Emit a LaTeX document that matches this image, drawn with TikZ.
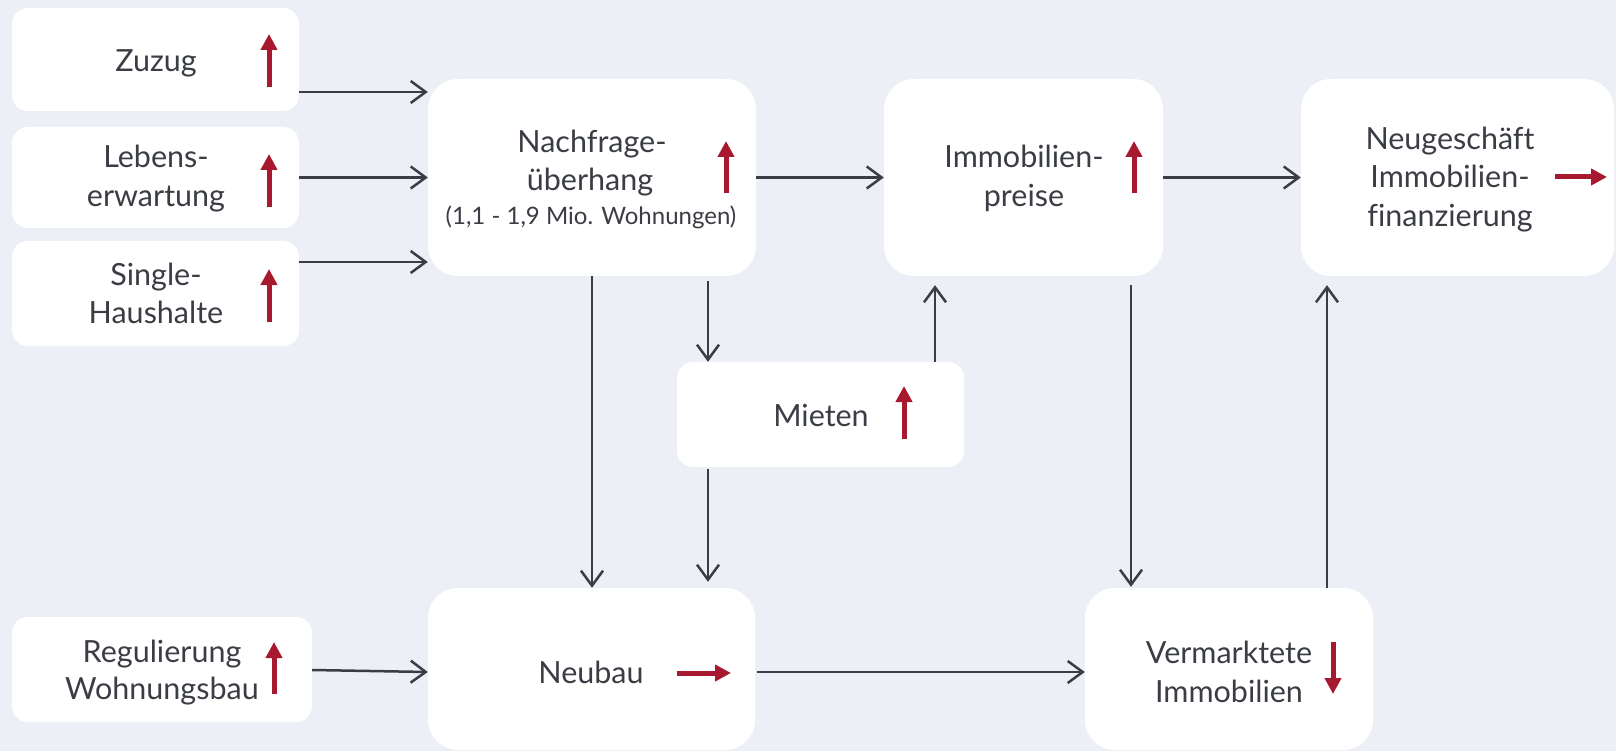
\documentclass[tikz,border=0pt]{standalone}
\usepackage{fontspec}
\setmainfont{Lato}[Ligatures=NoCommon]
\usetikzlibrary{arrows.meta}
\definecolor{bg}{RGB}{236,239,246}
\definecolor{ink}{RGB}{58,61,68}
\definecolor{signal}{RGB}{166,25,46}
\begin{document}
\begin{tikzpicture}[x=1pt,y=-1pt,
  box/.style={fill=white,draw=none,inner sep=0pt},
  small/.style={box,rounded corners=16pt},
  large/.style={box,rounded corners=30pt},
  lbl/.style={anchor=base,inner sep=0pt,text=ink,font=\fontsize{30.5}{38}\selectfont},
  sublbl/.style={anchor=base,inner sep=0pt,text=ink,font=\fontsize{24}{30}\selectfont},
  conn/.style={draw=ink,line width=2.5pt,-{Straight Barb[length=15pt,width=22pt]}},
  trend/.style={draw=signal,line width=5pt,-{Triangle[length=16pt,width=16pt]}}]
\useasboundingbox (0,0) rectangle (1616,751);
\fill[bg] (0,0) rectangle (1616,751);

% boxes
\node[small,minimum width=287pt,minimum height=103pt] (zuzug)  at (155.5,59.5) {};
\node[small,minimum width=287pt,minimum height=101pt] (lebens) at (155.5,177.5) {};
\node[small,minimum width=287pt,minimum height=105pt] (single) at (155.5,293.5) {};
\node[small,minimum width=300pt,minimum height=105pt] (regul)  at (162,669.5) {};
\node[large,minimum width=328pt,minimum height=197pt] (nach)   at (592,177.5) {};
\node[large,minimum width=279pt,minimum height=197pt] (immo)   at (1023.5,177.5) {};
\node[large,minimum width=313pt,minimum height=197pt] (neug)   at (1457.5,177.5) {};
\node[small,minimum width=287pt,minimum height=105pt] (mieten) at (820.5,414.5) {};
\node[large,minimum width=327pt,minimum height=162pt] (neubau) at (591.5,669) {};
\node[large,minimum width=288pt,minimum height=162pt] (verm)   at (1229,669) {};

% labels
\node[lbl] (tzuzug) at (156,72) {Zuzug};
\node[lbl] (tleb1) at (156,168) {Lebens-};
\node[lbl] (tleb2) at (156,207) {erwartung};
\node[lbl] (tsin1) at (156,285) {Single-};
\node[lbl] (tsin2) at (156,323) {Haushalte};
\node[lbl] (treg1) at (162,662) {Regulierung};
\node[lbl] (treg2) at (162,699) {Wohnungsbau};
\node[lbl] (tnach1) at (592,153) {Nachfrage-};
\node[lbl] (tnach2) at (590,191) {überhang};
\node[sublbl] (tnach3) at (591,225) {(1,1 - 1,9 Mio. Wohnungen)};
\node[lbl] (timmo1) at (1024,168) {Immobilien-};
\node[lbl] (timmo2) at (1024,207) {preise};
\node[lbl] (tneug1) at (1450,150) {Neugeschäft};
\node[lbl] (tneug2) at (1450,188) {Immobilien-};
\node[lbl] (tneug3) at (1450,227) {finanzierung};
\node[lbl] (tmiet) at (821,426) {Mieten};
\node[lbl] (tneubau) at (591,683) {Neubau};
\node[lbl] (tverm1) at (1229,663) {Vermarktete};
\node[lbl] (tverm2) at (1229,702) {Immobilien};

% connectors
\draw[conn] (zuzug.east |- 0,92) -- (nach.west |- 0,92);
\draw[conn] (lebens.east) -- (nach.west);
\draw[conn] (single.east |- 0,262) -- (nach.west |- 0,262);
\draw[conn] (regul.east |- 0,670) -- (neubau.west |- 0,672);
\draw[conn] (nach.east) -- (immo.west);
\draw[conn] (immo.east) -- (neug.west);
\draw[conn] (nach.south) -- (nach.south |- neubau.north);
\draw[conn,shorten <=5pt] (nach.south -| 708,0) -- (mieten.north -| 708,0);
\draw[conn,shorten <=2pt,shorten >=6pt] (mieten.south -| 708,0) -- (neubau.north -| 708,0);
\draw[conn,shorten >=9pt] (mieten.north -| 935,0) -- (immo.south -| 935,0);
\draw[conn,shorten <=9pt,shorten >=1pt] (immo.south -| 1131,0) -- (verm.north -| 1131,0);
\draw[conn,shorten >=9pt] (verm.north -| 1327,0) -- (neug.south -| 1327,0);
\draw[conn,shorten <=2pt] (neubau.east |- 0,672) -- (verm.west |- 0,672);

% trend indicators
\draw[trend] (269,87) -- (269,34);
\draw[trend] (269,207) -- (269,154);
\draw[trend] (269,322) -- (269,269);
\draw[trend] (274,694) -- (274,642);
\draw[trend] (726,193) -- (726,141);
\draw[trend] (1134,193) -- (1134,141);
\draw[trend] (1555,177) -- (1607,177);
\draw[trend] (904,439) -- (904,386);
\draw[trend] (677,673) -- (731,673);
\draw[trend] (1333,642) -- (1333,694);
\end{tikzpicture}
\end{document}
